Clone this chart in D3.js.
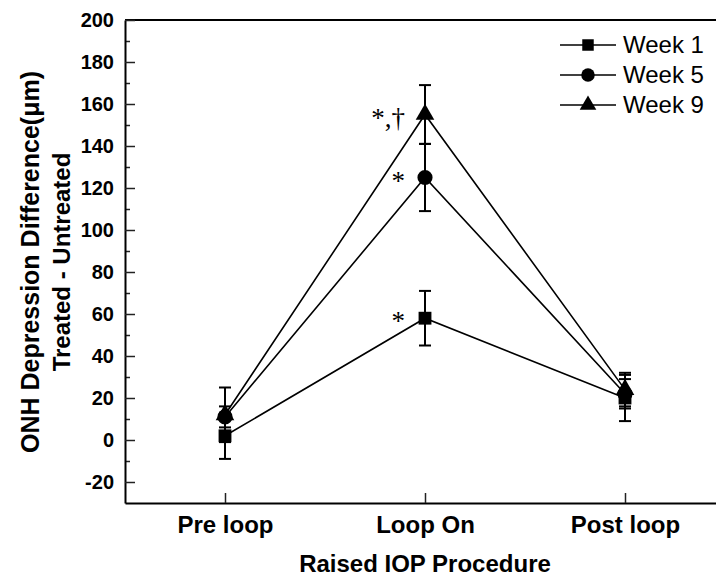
<!DOCTYPE html>
<html>
<head>
<meta charset="utf-8">
<script src="https://cdn.jsdelivr.net/npm/d3@7"></script>
<style>
  body { margin: 0; background: #fff; }
  text { font-family: "Liberation Sans", Arial, sans-serif; }
</style>
</head>
<body>
<svg id="chart" width="716" height="577"></svg>
<script>
// data
var categories = ["Pre loop", "Loop On", "Post loop"];
var seriesNames = ["Week 1", "Week 5", "Week 9"];
var week1 = [2, 58, 20];
var week1Err = [11, 13, 11];
var week5 = [11, 125, 22];
var week5Err = [5, 16, 7];
var week9 = [12, 155, 24];
var week9Err = [13, 14, 8];
var starLabels = ["*", "*", "*,\u2020"];   // significance marks at "Loop On"
var yTicks = [-20, 0, 20, 40, 60, 80, 100, 120, 140, 160, 180, 200];

var svg = d3.select("#chart"),
    margin = {left: 125, top: 20, bottom: 503};

var x = d3.scaleLinear().domain([0.5, 3.5]).range([125, 725]);
var y = d3.scaleLinear().domain([-30, 200]).range([503, 20]);

var symbols = [d3.symbolSquare, d3.symbolCircle, d3.symbolTriangle];
var sizes = [165, 180, 150];

var series = [
  {name: seriesNames[0], values: week1, err: week1Err},
  {name: seriesNames[1], values: week5, err: week5Err},
  {name: seriesNames[2], values: week9, err: week9Err}
];

// frame top line
svg.append("line")
  .attr("x1", x(0.5)).attr("x2", x(3.5))
  .attr("y1", y(200)).attr("y2", y(200))
  .attr("stroke", "#000").attr("stroke-width", 2);

// minor y ticks
svg.append("g")
  .attr("transform", "translate(" + margin.left + ",0)")
  .call(d3.axisLeft(y).tickValues(d3.range(-10, 200, 20)).tickSize(-5).tickFormat(""))
  .call(function (g) { g.select(".domain").remove(); })
  .selectAll("line").attr("stroke", "#222").attr("stroke-width", 1.5);

// y axis
var yAxis = svg.append("g")
  .attr("transform", "translate(" + margin.left + ",0)")
  .call(d3.axisLeft(y).tickValues(yTicks).tickSizeInner(-10).tickSizeOuter(0).tickPadding(11)
    .tickFormat(function (d) { return String(d); }));
yAxis.select(".domain").attr("stroke", "#000").attr("stroke-width", 2);
yAxis.selectAll(".tick line").attr("stroke", "#222").attr("stroke-width", 1.5);
yAxis.selectAll(".tick text")
  .attr("font-size", 20).attr("font-weight", "bold").attr("fill", "#000")
  .style("font-family", "Liberation Sans, Arial, sans-serif");

// x axis
var xAxis = svg.append("g")
  .attr("transform", "translate(0," + margin.bottom + ")")
  .call(d3.axisBottom(x).tickValues([1, 2, 3]).tickSizeInner(-10).tickSizeOuter(0).tickPadding(13)
    .tickFormat(function (d) { return categories[d - 1]; }));
xAxis.select(".domain").attr("stroke", "#000").attr("stroke-width", 2);
xAxis.selectAll(".tick line").attr("stroke", "#222").attr("stroke-width", 1.5);
xAxis.selectAll(".tick text")
  .attr("font-size", 24).attr("font-weight", "bold").attr("fill", "#000")
  .style("font-family", "Liberation Sans, Arial, sans-serif");

// axis titles
svg.append("text")
  .attr("x", 425).attr("y", 572)
  .attr("text-anchor", "middle")
  .attr("font-size", 24).attr("font-weight", "bold")
  .text("Raised IOP Procedure");

var yTitle = svg.append("g")
  .attr("transform", "translate(0,262) rotate(-90)");
yTitle.append("text")
  .attr("x", 0).attr("y", 39)
  .attr("text-anchor", "middle")
  .attr("font-size", 25).attr("font-weight", "bold")
  .text("ONH Depression Difference(\u03bcm)");
yTitle.append("text")
  .attr("x", 0).attr("y", 70)
  .attr("text-anchor", "middle")
  .attr("font-size", 24).attr("font-weight", "bold")
  .text("Treated - Untreated");

var line = d3.line()
  .x(function (d, i) { return x(i + 1); })
  .y(function (d) { return y(d); });

// connecting lines
svg.append("g").selectAll("path")
  .data(series)
  .enter().append("path")
  .attr("d", function (d) { return line(d.values); })
  .attr("fill", "none")
  .attr("stroke", "#000")
  .attr("stroke-width", 1.6);

// error bars
series.forEach(function (s) {
  var g = svg.append("g").attr("stroke", "#000").attr("stroke-width", 2);
  s.values.forEach(function (v, i) {
    var cx = x(i + 1);
    g.append("line")
      .attr("x1", cx).attr("x2", cx)
      .attr("y1", y(v - s.err[i])).attr("y2", y(v + s.err[i]));
    [v - s.err[i], v + s.err[i]].forEach(function (e) {
      g.append("line")
        .attr("x1", cx - 6).attr("x2", cx + 6)
        .attr("y1", y(e)).attr("y2", y(e));
    });
  });
});

// markers
series.forEach(function (s, k) {
  svg.append("g").selectAll("path")
    .data(s.values)
    .enter().append("path")
    .attr("transform", function (d, i) { return "translate(" + x(i + 1) + "," + y(d) + ")"; })
    .attr("d", d3.symbol().type(symbols[k]).size(sizes[k]))
    .attr("fill", "#000");
});

// significance marks
series.forEach(function (s, k) {
  svg.append("text")
    .attr("x", x(2) - 20)
    .attr("y", y(s.values[1]) + 12)
    .attr("text-anchor", "end")
    .attr("font-size", 27)
    .style("font-family", "Liberation Serif, Times New Roman, serif")
    .text(starLabels[k]);
});

// legend
var legend = svg.append("g").selectAll("g")
  .data(series)
  .enter().append("g")
  .attr("transform", function (d, i) { return "translate(0," + (45 + i * 30) + ")"; });
legend.append("line")
  .attr("x1", 560).attr("x2", 616)
  .attr("stroke", "#000").attr("stroke-width", 1.6);
legend.append("path")
  .attr("transform", "translate(588,0)")
  .attr("d", function (d, i) { return d3.symbol().type(symbols[i]).size(sizes[i] * 0.8)(); })
  .attr("fill", "#000");
legend.append("text")
  .attr("x", 623).attr("dy", "0.35em")
  .attr("font-size", 24)
  .text(function (d) { return d.name; });
</script>
</body>
</html>
